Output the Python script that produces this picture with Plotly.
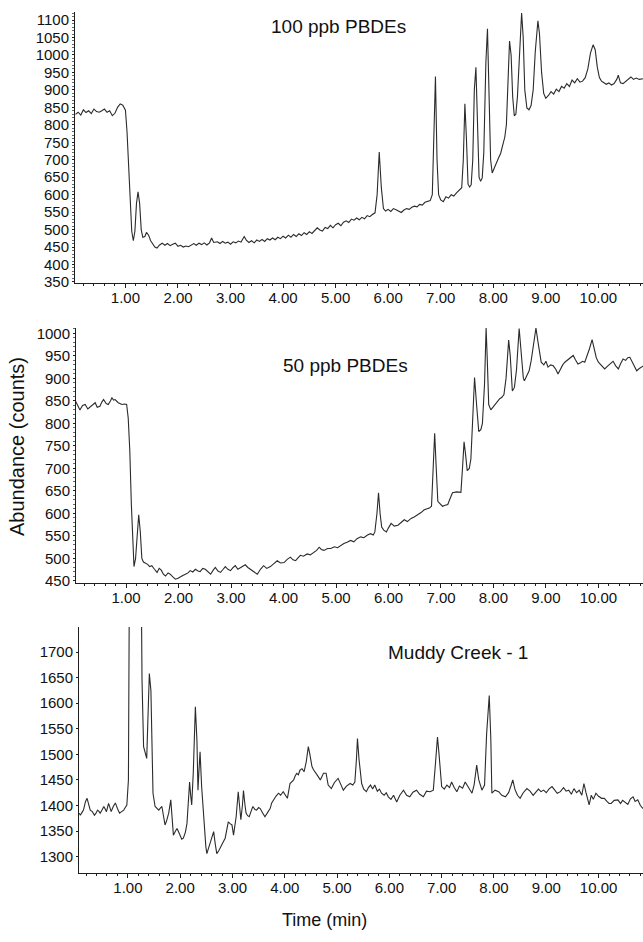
import plotly.graph_objects as go

# ---------------- Data ----------------
t_100 = [0.05,0.10,0.15,0.20,0.25,0.30,0.35,0.40,0.45,0.50,0.55,0.60,0.65,0.70,0.75,0.80,0.85,0.90,0.95,1.00,
         1.03,1.06,1.09,1.12,1.15,1.18,1.21,1.24,1.27,1.30,1.33,1.37,1.40,1.44,1.48,1.52,1.56,1.60,1.65,1.70,
         1.75,1.80,1.85,1.90,1.95,2.00,2.05,2.10,2.15,2.20,2.25,2.30,2.35,2.40,2.45,2.50,2.55,2.60,2.64,2.68,
         2.75,2.80,2.85,2.90,2.95,3.00,3.05,3.10,3.15,3.20,3.26,3.30,3.35,3.40,3.45,3.50,3.55,3.60,3.65,3.70,
         3.75,3.80,3.85,3.90,3.95,4.00,4.05,4.10,4.15,4.20,4.25,4.30,4.35,4.40,4.45,4.50,4.55,4.60,4.65,4.70,
         4.75,4.80,4.85,4.90,4.95,5.00,5.05,5.10,5.15,5.20,5.25,5.30,5.35,5.40,5.45,5.50,5.55,5.60,5.65,5.70,
         5.75,5.79,5.83,5.87,5.91,5.95,6.00,6.05,6.10,6.15,6.20,6.25,6.30,6.35,6.40,6.45,6.50,6.55,6.60,6.65,
         6.70,6.75,6.80,6.84,6.88,6.90,6.93,6.96,7.00,7.05,7.10,7.15,7.20,7.25,7.30,7.35,7.40,7.43,7.46,7.49,
         7.52,7.55,7.58,7.61,7.64,7.67,7.70,7.73,7.76,7.79,7.82,7.86,7.89,7.92,7.95,7.98,8.02,8.06,8.10,8.14,
         8.18,8.22,8.25,8.28,8.31,8.34,8.37,8.40,8.43,8.46,8.50,8.54,8.57,8.60,8.64,8.68,8.72,8.76,8.80,8.85,
         8.88,8.92,8.96,9.00,9.05,9.10,9.15,9.20,9.25,9.30,9.35,9.40,9.45,9.50,9.55,9.60,9.65,9.70,9.75,9.80,
         9.85,9.90,9.94,9.98,10.02,10.06,10.10,10.15,10.20,10.25,10.30,10.35,10.38,10.42,10.47,10.52,10.57,10.62,10.67,10.72,
         10.78,10.85]
a_100 = [830,836,828,843,835,840,832,845,838,836,840,845,836,840,826,833,850,860,856,842,
         780,680,560,495,468,495,575,608,575,500,478,480,492,484,468,458,450,447,456,461,
         455,460,454,458,461,452,455,450,453,451,456,460,455,461,457,462,456,462,476,463,
         465,460,466,461,464,458,465,462,467,464,480,470,463,468,462,470,466,472,466,474,
         470,476,471,478,474,481,476,484,478,486,480,488,483,491,486,494,489,497,505,499,
         496,506,503,512,505,514,518,511,521,525,520,530,527,533,528,535,531,540,537,543,
         548,600,722,620,560,553,558,552,560,557,552,549,556,560,558,564,567,565,572,570,
         578,580,583,600,880,938,700,600,585,580,594,590,600,596,605,612,620,700,860,760,
         630,622,628,700,900,965,800,650,638,648,720,980,1075,900,700,662,678,690,705,718,
         740,765,800,900,1040,1000,880,826,830,880,1020,1120,1050,900,848,843,855,900,1010,1098,
         1060,950,890,876,884,895,888,902,895,910,905,918,910,928,920,932,922,925,935,960,
         1005,1029,1015,965,935,925,921,916,920,914,918,930,942,920,918,925,930,937,930,934,
         930,932]

t_50 = [0.04,0.08,0.12,0.17,0.22,0.27,0.31,0.36,0.41,0.45,0.50,0.54,0.57,0.62,0.66,0.70,0.73,0.76,0.79,0.85,
        0.92,0.97,1.01,1.04,1.07,1.10,1.13,1.15,1.18,1.21,1.24,1.27,1.30,1.33,1.37,1.41,1.45,1.49,1.54,1.59,
        1.63,1.67,1.71,1.75,1.80,1.84,1.89,1.94,1.99,2.03,2.08,2.13,2.18,2.22,2.27,2.32,2.37,2.41,2.46,2.51,
        2.56,2.61,2.66,2.70,2.75,2.80,2.85,2.89,2.94,2.99,3.04,3.08,3.13,3.18,3.23,3.27,3.32,3.37,3.43,3.50,
        3.56,3.62,3.68,3.75,3.81,3.88,3.94,4.01,4.07,4.13,4.18,4.23,4.28,4.32,4.38,4.45,4.51,4.58,4.63,4.68,
        4.72,4.77,4.84,4.90,4.97,5.03,5.09,5.15,5.21,5.28,5.34,5.40,5.47,5.53,5.60,5.66,5.71,5.74,5.78,5.81,
        5.84,5.87,5.91,5.96,6.00,6.05,6.11,6.18,6.24,6.30,6.36,6.43,6.49,6.56,6.62,6.68,6.73,6.78,6.82,6.85,
        6.88,6.91,6.94,6.98,7.03,7.08,7.13,7.17,7.22,7.30,7.38,7.41,7.44,7.47,7.50,7.54,7.57,7.60,7.64,7.68,
        7.72,7.76,7.79,7.83,7.86,7.88,7.91,7.95,8.00,8.04,8.07,8.12,8.16,8.20,8.24,8.29,8.32,8.36,8.40,8.44,
        8.49,8.53,8.57,8.59,8.63,8.68,8.72,8.78,8.81,8.85,8.91,8.96,9.00,9.04,9.09,9.14,9.19,9.23,9.28,9.32,
        9.36,9.42,9.47,9.52,9.56,9.61,9.66,9.70,9.74,9.78,9.83,9.88,9.92,9.96,10.00,10.05,10.12,10.18,10.23,10.28,
        10.33,10.38,10.42,10.47,10.52,10.56,10.60,10.64,10.69,10.73,10.78,10.86]
a_50 = [849,838,830,840,842,832,836,843,846,836,838,848,853,844,842,850,857,852,853,846,
        842,843,842,812,740,620,520,482,500,560,597,560,500,492,490,487,482,484,476,469,
        478,474,465,461,468,465,459,454,456,458,462,465,468,473,470,476,472,471,478,476,
        470,465,474,480,472,469,476,482,476,473,480,484,476,480,484,486,480,476,470,465,
        476,484,478,482,488,495,490,491,498,503,497,495,502,507,505,510,508,514,518,525,
        520,518,522,522,526,524,529,533,536,540,537,544,548,546,552,555,552,559,600,646,
        600,570,563,559,568,578,572,574,580,586,582,589,592,597,602,608,610,612,616,700,
        778,700,627,622,616,618,620,632,646,648,647,700,759,730,695,700,721,797,902,840,
        782,786,800,887,1012,950,842,830,838,845,849,855,858,864,900,985,950,872,880,920,
        1011,960,900,895,905,917,940,990,1012,980,936,930,938,925,930,928,920,910,922,930,
        936,942,948,951,942,932,935,938,936,948,966,986,966,946,936,930,921,928,934,938,
        928,921,932,943,940,946,947,938,925,917,922,928]

t_mc = [0.07,0.09,0.12,0.15,0.19,0.22,0.25,0.28,0.32,0.36,0.39,0.42,0.45,0.47,0.51,0.54,0.57,0.59,0.61,0.63,
        0.66,0.68,0.72,0.76,0.80,0.84,0.88,0.92,0.95,0.98,1.01,1.03,1.05,1.22,1.25,1.27,1.30,1.33,1.36,1.38,
        1.41,1.44,1.46,1.48,1.52,1.56,1.59,1.62,1.65,1.68,1.71,1.74,1.78,1.82,1.85,1.87,1.91,1.94,1.97,2.00,
        2.03,2.06,2.10,2.13,2.16,2.18,2.20,2.22,2.25,2.27,2.29,2.32,2.34,2.36,2.38,2.41,2.44,2.46,2.49,2.51,
        2.54,2.57,2.61,2.64,2.67,2.70,2.74,2.78,2.82,2.86,2.89,2.92,2.96,2.99,3.02,3.05,3.07,3.11,3.14,3.16,
        3.19,3.21,3.24,3.26,3.29,3.32,3.36,3.39,3.43,3.46,3.50,3.53,3.58,3.62,3.67,3.72,3.75,3.78,3.83,3.88,
        3.92,3.97,4.01,4.05,4.10,4.14,4.17,4.20,4.23,4.26,4.29,4.33,4.37,4.41,4.45,4.48,4.52,4.55,4.58,4.63,
        4.68,4.71,4.74,4.79,4.83,4.89,4.95,5.02,5.07,5.12,5.18,5.25,5.30,5.34,5.37,5.39,5.42,5.47,5.51,5.56,
        5.60,5.64,5.68,5.72,5.77,5.81,5.85,5.90,5.94,5.98,6.03,6.08,6.14,6.20,6.27,6.33,6.39,6.45,6.52,6.58,
        6.65,6.71,6.78,6.84,6.88,6.92,6.95,7.00,7.05,7.10,7.15,7.19,7.24,7.29,7.34,7.40,7.45,7.50,7.54,7.58,
        7.62,7.67,7.71,7.77,7.82,7.86,7.91,7.94,7.96,8.02,8.09,8.15,8.22,8.28,8.33,8.36,8.40,8.45,8.50,8.56,
        8.63,8.69,8.75,8.79,8.85,8.90,8.95,9.00,9.05,9.11,9.16,9.21,9.27,9.33,9.38,9.43,9.48,9.53,9.58,9.63,
        9.68,9.72,9.76,9.82,9.86,9.90,9.95,10.00,10.06,10.11,10.16,10.20,10.24,10.30,10.37,10.42,10.46,10.50,10.56,10.61,
        10.66,10.70,10.75,10.80,10.85]
a_mc = [1385,1381,1386,1391,1408,1414,1402,1391,1388,1381,1385,1391,1388,1385,1392,1398,1392,1388,1396,1404,
        1395,1388,1398,1405,1394,1385,1388,1391,1396,1401,1450,1800,2300,2300,1800,1645,1515,1500,1492,1560,
        1658,1625,1520,1424,1398,1393,1391,1395,1398,1380,1362,1370,1385,1411,1375,1342,1350,1355,1348,1339,
        1334,1336,1348,1365,1410,1446,1420,1401,1463,1540,1593,1528,1430,1470,1505,1437,1390,1352,1320,1306,
        1315,1326,1340,1349,1325,1306,1312,1319,1328,1336,1352,1368,1364,1362,1342,1360,1378,1427,1395,1372,
        1400,1429,1400,1385,1380,1378,1390,1398,1392,1391,1396,1394,1385,1378,1386,1394,1405,1411,1418,1424,
        1420,1427,1420,1414,1443,1448,1450,1458,1463,1460,1469,1472,1466,1485,1515,1500,1476,1470,1466,1458,
        1450,1458,1463,1463,1440,1433,1445,1453,1440,1430,1438,1443,1440,1446,1490,1531,1490,1443,1432,1427,
        1435,1440,1432,1440,1428,1432,1424,1420,1425,1417,1412,1420,1407,1420,1430,1420,1417,1426,1430,1422,
        1417,1428,1427,1430,1480,1534,1500,1437,1432,1440,1435,1446,1435,1427,1438,1434,1446,1437,1430,1424,
        1440,1479,1450,1430,1440,1541,1615,1530,1424,1430,1427,1420,1417,1425,1440,1450,1432,1420,1414,1425,
        1433,1428,1420,1424,1432,1427,1430,1425,1432,1437,1430,1424,1427,1435,1428,1430,1422,1433,1425,1430,
        1420,1443,1425,1401,1420,1412,1424,1418,1414,1414,1408,1404,1404,1410,1411,1404,1410,1407,1402,1413,
        1417,1408,1411,1400,1394]

panel_titles = ["100 ppb PBDEs", "50 ppb PBDEs", "Muddy Creek - 1"]
x_title = "Time (min)"
y_title = "Abundance (counts)"

# ---------------- Figure ----------------
W, H = 643, 942
FONT = "Liberation Sans, Arial, sans-serif"
INK = "#1e1e1e"

def fx(px):
    return px / W

def fy(py):
    return 1 - py / H

fig = go.Figure()
line = dict(color="#2b2b2b", width=1.1)
fig.add_trace(go.Scatter(x=t_100, y=a_100, mode="lines", line=line, xaxis="x", yaxis="y"))
fig.add_trace(go.Scatter(x=t_50, y=a_50, mode="lines", line=line, xaxis="x2", yaxis="y2"))
fig.add_trace(go.Scatter(x=t_mc, y=a_mc, mode="lines", line=line, xaxis="x3", yaxis="y3"))

def xax(dom_left_px, rng_start, anchor):
    return dict(
        domain=[fx(dom_left_px), 1.0], range=[rng_start, 10.85], anchor=anchor,
        showline=True, linecolor=INK, linewidth=1, showgrid=False, zeroline=False,
        ticks="outside", ticklen=4, tickcolor=INK, tickwidth=1,
        tickmode="linear", tick0=1, dtick=1, tickformat=".2f",
        tickfont=dict(family=FONT, size=15, color="#111"),
        ticklabelstandoff=-3,
        minor=dict(ticks="outside", ticklen=2, tickcolor=INK, dtick=0.2, tick0=0),
        fixedrange=True, automargin=False,
    )

def yax(top_px, bot_px, rng, anchor, minor=True):
    d = dict(
        domain=[fy(bot_px), fy(top_px)], range=rng, anchor=anchor,
        showline=True, linecolor=INK, linewidth=1, showgrid=False, zeroline=False,
        ticks="outside", ticklen=2, tickcolor=INK, tickwidth=1,
        tickmode="linear", tick0=0, dtick=50,
        tickfont=dict(family=FONT, size=15, color="#111"),
        fixedrange=True, automargin=False,
    )
    if minor:
        d["minor"] = dict(ticks="outside", ticklen=2, tickcolor="#666", dtick=10, tick0=0)
    return d

fig.update_layout(
    width=W, height=H,
    margin=dict(l=0, r=0, t=0, b=0),
    paper_bgcolor="white", plot_bgcolor="white",
    showlegend=False,
    xaxis=xax(75, 0.04, "y"),
    yaxis=yax(12, 283, [347, 1123], "x"),
    xaxis2=xax(76, 0.045, "y2"),
    yaxis2=yax(328, 583, [445.5, 1012], "x2"),
    xaxis3=xax(79, 0.065, "y3"),
    yaxis3=yax(627, 873, [1268, 1749], "x3", minor=False),
)

ann = []
for text, (px, py) in zip(panel_titles, [(338, 27), (346, 365), (458, 652)]):
    ann.append(dict(text=text, x=fx(px), y=fy(py), xref="paper", yref="paper",
                    xanchor="center", yanchor="middle", showarrow=False,
                    font=dict(family=FONT, size=19, color="#111")))
ann.append(dict(text=y_title, x=fx(17), y=fy(447), xref="paper", yref="paper",
                xanchor="center", yanchor="middle", showarrow=False, textangle=-90,
                font=dict(family=FONT, size=20, color="#111")))
ann.append(dict(text=x_title, x=fx(324), y=fy(920), xref="paper", yref="paper",
                xanchor="center", yanchor="middle", showarrow=False,
                font=dict(family=FONT, size=18, color="#111")))
fig.update_layout(annotations=ann)

fig.write_html(
    "out.html",
    config={"displayModeBar": False},
    post_script="document.body.style.margin='0';document.body.style.overflow='hidden';",
)
